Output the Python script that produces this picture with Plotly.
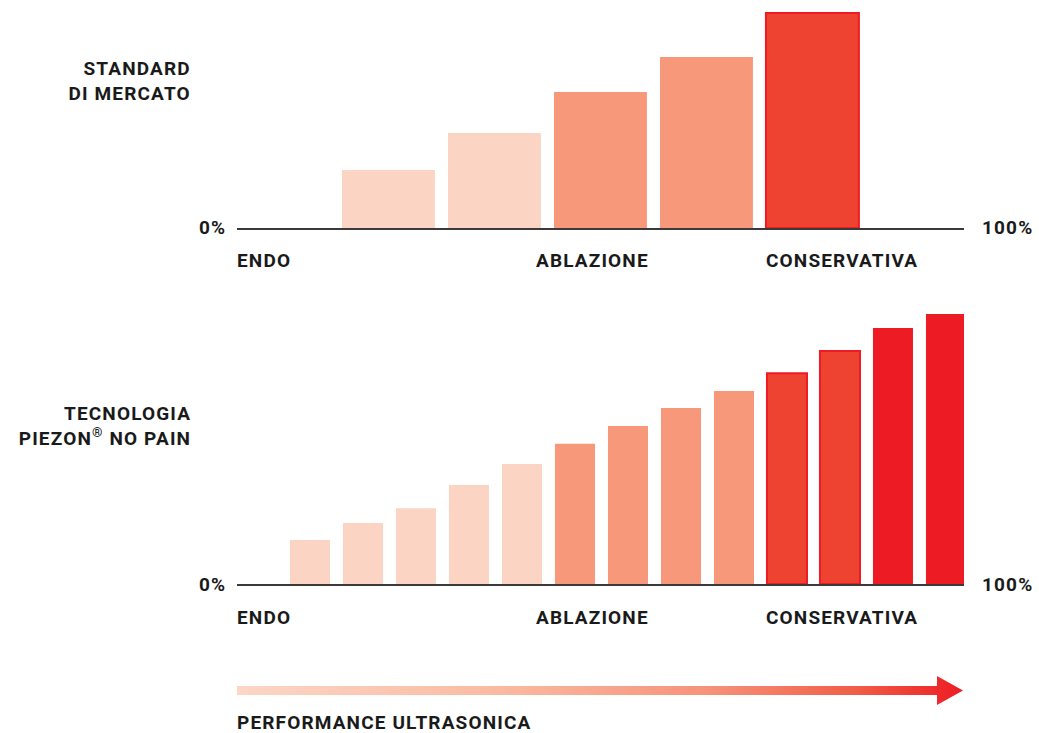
import plotly.graph_objects as go

# ---- data ----
top_levels = [1, 2, 3, 4, 5]
top_values = [21.5, 35.2, 50.4, 63.3, 79.6]
top_colors = ["#FCD4C3", "#FCD4C3", "#F7987B", "#F7987B", "#EE4331"]
top_border = [0, 0, 0, 0, 2]

bot_levels = list(range(1, 14))
bot_values = [16.3, 22.6, 28.1, 36.7, 44.4, 51.9, 58.5, 65.2, 71.5, 78.1, 86.3, 94.8, 100.0]
bot_colors = ["#FCD4C3"] * 5 + ["#F7987B"] * 4 + ["#EE4331"] * 2 + ["#ED1C24"] * 2
bot_border = [0] * 9 + [2] * 2 + [0] * 2

row_labels = ["STANDARD<br>DI MERCATO", "TECNOLOGIA<br>PIEZON<sup>®</sup> NO PAIN"]
axis_labels = ["ENDO", "ABLAZIONE", "CONSERVATIVA"]
pct_labels = ["0%", "100%"]
arrow_label = "PERFORMANCE ULTRASONICA"

W, H = 1039, 733
FONT = "Roboto"
TXT = "#1a1a1a"

def px(x):
    return x / W

def py(y):
    return 1 - y / H

fig = go.Figure()

fig.add_trace(go.Bar(
    x=top_levels, y=top_values, width=0.877,
    marker=dict(color=top_colors, line=dict(color="#ED1C24", width=top_border)),
    xaxis="x", yaxis="y", hoverinfo="skip", showlegend=False))

fig.add_trace(go.Bar(
    x=bot_levels, y=bot_values, width=0.755,
    marker=dict(color=bot_colors, line=dict(color="#ED1C24", width=bot_border)),
    xaxis="x2", yaxis="y2", hoverinfo="skip", showlegend=False))

# gradient arrow (decoration) on a pixel-space axis pair covering the page
ax_x = [237, 937, 937, 963, 937, 937, 237, 237]
ax_y = [686, 686, 676, 690.5, 705, 695, 695, 686]
fig.add_trace(go.Scatter(
    x=ax_x, y=ax_y, mode="lines", line=dict(width=0), fill="toself",
    fillgradient=dict(type="horizontal",
                      colorscale=[[0, "#FCD6C6"], [0.35, "#FABBA3"], [0.65, "#F6927A"],
                                  [0.85, "#F15E47"], [1, "#ED1C24"]]),
    xaxis="x3", yaxis="y3", hoverinfo="skip", showlegend=False))

axis_common = dict(showgrid=False, zeroline=False, showticklabels=False, ticks="")

fig.update_layout(
    width=W, height=H,
    margin=dict(l=0, r=0, t=0, b=0),
    paper_bgcolor="white", plot_bgcolor="rgba(0,0,0,0)",
    bargap=0,
    xaxis=dict(domain=[px(237), px(964)], range=[-0.429, 6.430], anchor="y",
               showline=True, linecolor="#3a3a3a", linewidth=1.5, **axis_common),
    yaxis=dict(domain=[py(228), 1.0], range=[0, 228 / 2.7], anchor="x", **axis_common),
    xaxis2=dict(domain=[px(237), px(964)], range=[-0.377, 13.34], anchor="y2",
                showline=True, linecolor="#3a3a3a", linewidth=1.5, **axis_common),
    yaxis2=dict(domain=[py(584), py(300)], range=[0, 284 / 2.7], anchor="x2", **axis_common),
    xaxis3=dict(domain=[0, 1], range=[0, W], anchor="y3", **axis_common),
    yaxis3=dict(domain=[0, 1], range=[H, 0], anchor="x3", **axis_common),
)

def ann(text, x, y, xanchor="left", align="left"):
    fig.add_annotation(text=text, x=px(x), y=py(y), xref="paper", yref="paper",
                       xanchor=xanchor, yanchor="middle", align=align, showarrow=False,
                       font=dict(family=FONT, size=19, color=TXT, weight=700))

ann(row_labels[0], 193, 81, "right", "right")
ann(row_labels[1], 193, 426, "right", "right")

for base, lab_y in [(228, 260), (584, 617)]:
    ann(pct_labels[0], 226, base, "right")
    ann(pct_labels[1], 980, base)
    ann(axis_labels[0], 235, lab_y)
    ann(axis_labels[1], 534, lab_y)
    ann(axis_labels[2], 764, lab_y)

ann(arrow_label, 235, 722)

post = ("document.body.style.margin='0';document.body.style.overflow='hidden';"
        "var g=document.getElementById('{plot_id}');"
        "g.querySelectorAll('.annotation-text').forEach(function(t){t.style.letterSpacing='1.15px';});")
fig.write_html("out.html", post_script=post, config={"displayModeBar": False, "staticPlot": True})
